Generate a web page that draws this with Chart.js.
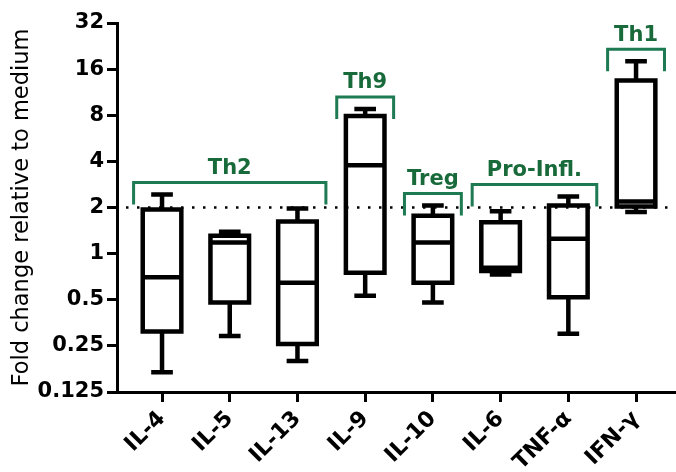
<!DOCTYPE html>
<html><head><meta charset="utf-8">
<script src="https://cdn.jsdelivr.net/npm/chart.js@4.4.0/dist/chart.umd.min.js"></script>
<style>html,body{margin:0;padding:0;background:#fff}#wrap{width:676px;height:472px}</style>
</head><body><div id="wrap"><canvas id="c" width="676" height="472"></canvas></div>
<script>
const categories = ['IL-4','IL-5','IL-13','IL-9','IL-10','IL-6','TNF-α','IFN-γ'];
const whiskerHigh = [2.43, 1.39, 1.97, 8.8, 2.06, 1.89, 2.36, 18.0];
const q3          = [1.94, 1.31, 1.62, 7.9, 1.77, 1.60, 2.06, 13.5];
const median      = [0.70, 1.18, 0.645, 3.77, 1.18, 0.81, 1.25, 2.19];
const q1          = [0.31, 0.48, 0.257, 0.75, 0.645, 0.77, 0.52, 2.03];
const whiskerLow  = [0.168, 0.29, 0.199, 0.53, 0.48, 0.73, 0.30, 1.87];
const yTicks = [0.125, 0.25, 0.5, 1, 2, 4, 8, 16, 32];
const referenceLine = 2;
const groupLabels = ['Th2', 'Th9', 'Treg', 'Pro-Infl.', 'Th1'];
const groupStart = [0, 3, 4, 5, 7];
const groupEnd   = [2, 3, 4, 6, 7];
const yTitle = 'Fold change relative to medium';

const FONT = "'DejaVu Sans', sans-serif";
Chart.defaults.font.family = FONT;
Chart.defaults.color = '#000';

const boxPlugin = {
  id: 'boxPlugin',
  afterDatasetsDraw(chart) {
    const ctx = chart.ctx, xs = chart.scales.x, ys = chart.scales.y;
    const unit = xs.getPixelForValue(1) - xs.getPixelForValue(0);
    const halfBox = unit * 0.285, halfCap = unit * 0.16;
    ctx.save();
    ctx.strokeStyle = '#000';
    ctx.lineWidth = 4.5;
    ctx.lineCap = 'butt';
    ctx.lineJoin = 'miter';
    categories.forEach((c, i) => {
      const x = xs.getPixelForValue(i);
      const yH = ys.getPixelForValue(whiskerHigh[i]);
      const y3 = ys.getPixelForValue(q3[i]);
      const yM = ys.getPixelForValue(median[i]);
      const y1 = ys.getPixelForValue(q1[i]);
      const yL = ys.getPixelForValue(whiskerLow[i]);
      ctx.beginPath();
      ctx.rect(x - halfBox, y3, halfBox * 2, y1 - y3);
      ctx.moveTo(x - halfBox, yM); ctx.lineTo(x + halfBox, yM);
      ctx.moveTo(x, y3); ctx.lineTo(x, yH);
      ctx.moveTo(x - halfCap, yH); ctx.lineTo(x + halfCap, yH);
      ctx.moveTo(x, y1); ctx.lineTo(x, yL);
      ctx.moveTo(x - halfCap, yL); ctx.lineTo(x + halfCap, yL);
      ctx.stroke();
    });
    // reference dotted line
    const yr = ys.getPixelForValue(referenceLine);
    ctx.beginPath();
    ctx.setLineDash([2.5, 8.5]);
    ctx.lineWidth = 2.5;
    ctx.moveTo(chart.chartArea.left + 9, yr);
    ctx.lineTo(chart.chartArea.right, yr);
    ctx.stroke();
    ctx.setLineDash([]);
    // group brackets
    groupLabels.forEach((g, k) => {
      const xl = xs.getPixelForValue(groupStart[k] - 0.42);
      const xr = xs.getPixelForValue(groupEnd[k] + 0.42);
      let mx = 0;
      for (let i = groupStart[k]; i <= groupEnd[k]; i++) mx = Math.max(mx, whiskerHigh[i]);
      const top = ys.getPixelForValue(mx) - 12;
      ctx.strokeStyle = '#1d7a52';
      ctx.lineWidth = 3;
      ctx.beginPath();
      ctx.moveTo(xl, top + 22); ctx.lineTo(xl, top); ctx.lineTo(xr, top); ctx.lineTo(xr, top + 22);
      ctx.stroke();
      ctx.fillStyle = '#186a3a';
      ctx.font = "bold 21px " + FONT;
      ctx.textAlign = 'center';
      ctx.textBaseline = 'middle';
      ctx.fillText(g, (xl + xr) / 2, top - 14);
    });
    ctx.restore();
  }
};

new Chart(document.getElementById('c'), {
  type: 'scatter',
  data: { datasets: [{ data: median.map((m, i) => ({ x: i, y: m })), pointRadius: 0, showLine: false }] },
  options: {
    responsive: false, animation: false, devicePixelRatio: 1,
    layout: { padding: { top: 23, right: 0, left: 0, bottom: 0 } },
    plugins: { legend: { display: false }, tooltip: { enabled: false } },
    scales: {
      x: {
        type: 'linear', min: -0.665, max: 7.59,
        afterBuildTicks: s => { s.ticks = categories.map((c, i) => ({ value: i })); },
        ticks: { autoSkip: false, maxRotation: 45, minRotation: 45, callback: v => categories[v],
                 font: { size: 22, weight: 'bold' }, padding: 4, color: '#000' },
        grid: { drawOnChartArea: false, tickLength: 10, tickWidth: 3, tickColor: '#000' },
        border: { display: true, width: 3, color: '#000' },
        afterFit: s => { s.height = 80; }
      },
      y: {
        type: 'logarithmic', min: 0.125, max: 32,
        afterBuildTicks: s => { s.ticks = yTicks.map(v => ({ value: v })); },
        ticks: { autoSkip: false, callback: v => String(v), font: { size: 21, weight: 'bold' }, padding: 3, color: '#000' },
        grid: { drawOnChartArea: false, tickLength: 10, tickWidth: 3, tickColor: '#000' },
        border: { display: true, width: 3, color: '#000' },
        title: { display: true, text: yTitle, font: { size: 22.5 }, padding: { top: 9, bottom: 0 }, color: '#000' },
        afterFit: s => { s.width = 117; }
      }
    }
  },
  plugins: [boxPlugin]
});
</script>
</body></html>
